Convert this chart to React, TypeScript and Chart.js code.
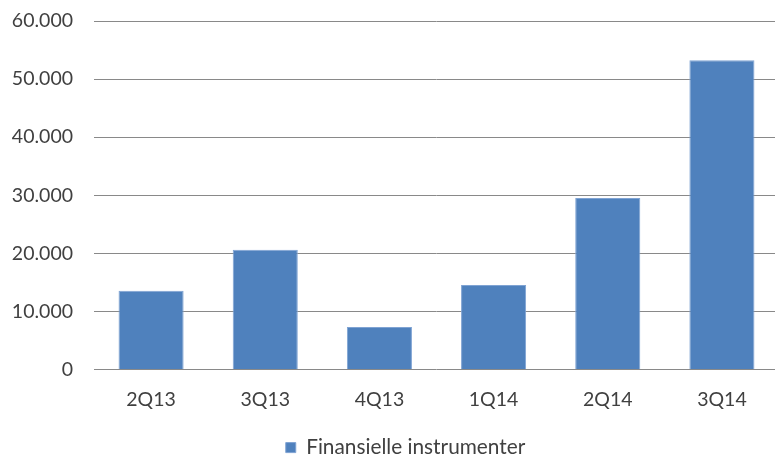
import React, { useEffect, useRef } from "react";
import { Chart, registerables } from "chart.js";

Chart.register(...registerables);

const categories = ["2Q13", "3Q13", "4Q13", "1Q14", "2Q14", "3Q14"];
const values = [13570, 20600, 7300, 14550, 29530, 53240];
const seriesName = "Finansielle instrumenter";
const yTicks = [0, 10000, 20000, 30000, 40000, 50000, 60000];

const fmt = (v: number) => {
  const s = Math.round(v).toString();
  return s.replace(/\B(?=(\d{3})+(?!\d))/g, ".");
};

const legendShift = {
  id: "legendShift",
  afterLayout(chart: any) {
    const lg = chart.legend;
    if (lg) {
      lg.left += 16;
      lg.right += 16;
    }
  },
};

export default function App() {
  const ref = useRef<HTMLCanvasElement | null>(null);
  useEffect(() => {
    document.body.style.margin = "0";
    document.body.style.overflow = "hidden";
    const ctx = ref.current!;
    const font = { family: "Lato, 'Open Sans', sans-serif", size: 19.5 };
    const legendFont = { family: "Lato, 'Open Sans', sans-serif", size: 20.8 };
    const chart = new Chart(ctx, {
      type: "bar",
      data: {
        labels: categories,
        datasets: [
          {
            label: seriesName,
            data: values,
            backgroundColor: "#4F81BD",
            borderColor: "#7FA3D3",
            borderWidth: 1,
            barPercentage: 0.57,
            categoryPercentage: 1,
          },
        ],
      },
      plugins: [legendShift],
      options: {
        responsive: false,
        animation: false,
        devicePixelRatio: 1,
        layout: { padding: { top: 21, left: 0, right: 0, bottom: 0 } },
        plugins: {
          tooltip: { enabled: false },
          legend: {
            position: "bottom",
            labels: {
              font: legendFont,
              color: "#404040",
              boxWidth: 10,
              boxHeight: 10,
              padding: 6,
            },
          },
        },
        scales: {
          x: {
            grid: { display: false, drawTicks: false },
            border: { display: false },
            ticks: { font, color: "#404040", padding: 18.5 },
            afterFit: (s: any) => {
              s.height = 61.7;
            },
          },
          y: {
            min: 0,
            max: 60000,
            afterBuildTicks: (s: any) => {
              s.ticks = yTicks.map((v) => ({ value: v }));
            },
            grid: { color: "#898989", lineWidth: 1, drawTicks: false },
            border: { display: false },
            ticks: {
              font,
              color: "#404040",
              padding: 21,
              callback: (v: any) => fmt(Number(v)),
            },
            afterFit: (s: any) => {
              s.width = 94;
              s.paddingTop = 0;
              s.paddingBottom = 0;
            },
          },
        },
      },
    } as any);
    return () => chart.destroy();
  }, []);
  return (
    <div style={{ width: 779, height: 468 }}>
      <canvas ref={ref} width={779} height={468} />
    </div>
  );
}
